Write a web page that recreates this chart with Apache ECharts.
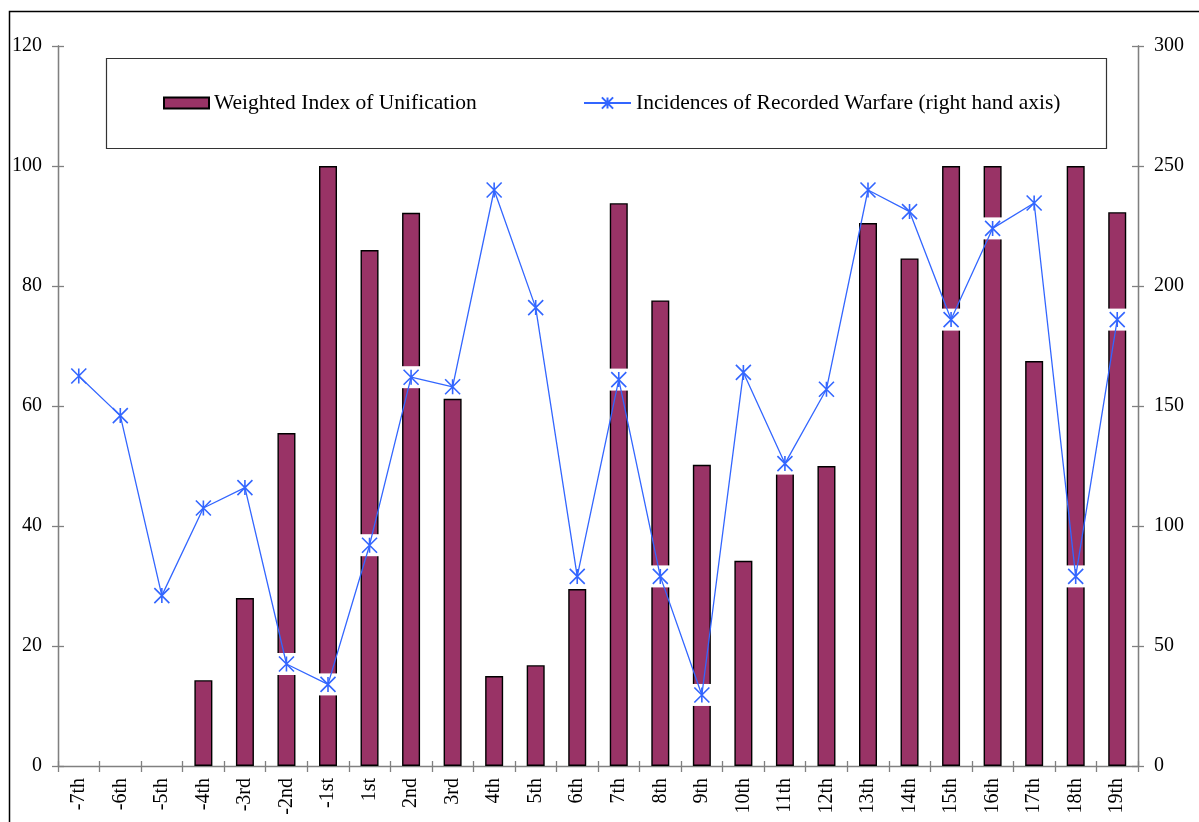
<!DOCTYPE html>
<html><head><meta charset="utf-8">
<script src="https://cdn.jsdelivr.net/npm/echarts@6/dist/echarts.min.js"></script>
<style>html,body{margin:0;padding:0;background:#fff;overflow:hidden}#c{width:1199px;height:822px}</style>
</head><body><div id="c"></div>
<script>
const categories = ['-7th','-6th','-5th','-4th','-3rd','-2nd','-1st','1st','2nd','3rd','4th','5th','6th','7th','8th','9th','10th','11th','12th','13th','14th','15th','16th','17th','18th','19th'];
const unification = [0,0,0,14.3,28,55.5,100,86,92.2,61.2,15,16.8,29.5,93.8,77.6,50.2,34.2,50,50,90.5,84.6,100,100,67.5,100,92.3];
const warfare = [162.5,146,71,107.5,116,42.5,34,92,162,158,240,191,79,161,79,29.6,164,126,157,240,231,186,224,234.6,79,186];
const leftAxis = {min:0,max:120,interval:20};
const rightAxis = {min:0,max:300,interval:50};
const seriesNames = ['Weighted Index of Unification','Incidences of Recorded Warfare (right hand axis)'];

const FONT = 'Liberation Serif';
const AXIS_GREY = '#808080';
const chart = echarts.init(document.getElementById('c'), null, {renderer:'canvas'});
const starPath = 'path://M0,0L10,10M10,0L0,10M5,0L5,10';

function yAx(pos, cfg, inside, show){
  return {type:'value', position:pos, min:cfg.min, max:cfg.max, interval:cfg.interval,
    splitLine:{show:false},
    axisLine:{show:true, lineStyle:{color:AXIS_GREY, width:1.3}},
    axisTick:{show:true, inside:inside, length:6, lineStyle:{color:AXIS_GREY, width:1.3}},
    axisLabel:{show:show, margin:16, color:'#000', fontFamily:FONT, fontSize:20}};
}

chart.setOption({
  animation:false,
  backgroundColor:'#fff',
  grid:{left:58, right:61, top:46, bottom:56, containLabel:false},
  legend:[
    {left:163, top:92, padding:0, itemWidth:45, itemHeight:11, itemGap:0, icon:'rect',
     data:[{name:seriesNames[0], icon:'rect'}],
     textStyle:{fontFamily:FONT, fontSize:21.5, color:'#000'}},
    {left:583, top:92, padding:0, itemWidth:47, itemHeight:14, itemGap:0, data:[seriesNames[1]],
     textStyle:{fontFamily:FONT, fontSize:21.5, color:'#000'}}
  ],
  graphic:[
    {type:'rect', shape:{x:9.5, y:11.5, width:1300, height:900}, style:{fill:'none', stroke:'#000', lineWidth:1.5}, silent:true, z:-10},
    {type:'rect', shape:{x:106.5, y:58.5, width:1000, height:90}, style:{fill:'#fff', stroke:'#333', lineWidth:1.2}, silent:true, z:-5}
  ],
  xAxis:[
    {type:'category', data:categories, position:'bottom', boundaryGap:true,
     axisLine:{show:true, lineStyle:{color:AXIS_GREY, width:1.3}},
     axisTick:{show:true, interval:0, length:6, lineStyle:{color:AXIS_GREY, width:1.3}},
     axisLabel:{interval:0, rotate:90, margin:12, color:'#000', fontFamily:FONT, fontSize:20},
     splitLine:{show:false}},
    {type:'category', data:categories, position:'bottom', boundaryGap:true,
     axisLine:{show:false},
     axisTick:{show:true, inside:true, interval:0, length:5, lineStyle:{color:AXIS_GREY, width:1.3}},
     axisLabel:{show:false}, splitLine:{show:false}}
  ],
  yAxis:[
    yAx('left', leftAxis, false, true),
    yAx('right', rightAxis, false, true),
    yAx('left', leftAxis, true, false),
    yAx('right', rightAxis, true, false)
  ],
  series:[
    {name:seriesNames[0], type:'bar', data:unification.map(v => v === 0 ? '-' : v), xAxisIndex:0, yAxisIndex:0,
     barWidth:18, z:2,
     itemStyle:{color:'#993366', borderColor:'#000', borderWidth:1.4},
     emphasis:{disabled:true}},
    {name:'box', type:'scatter', data:warfare, xAxisIndex:0, yAxisIndex:1,
     symbol:'rect', symbolSize:[20,22], z:3, silent:true,
     itemStyle:{color:'#fff', opacity:1}, emphasis:{disabled:true}},
    {name:seriesNames[1], type:'line', data:warfare, xAxisIndex:0, yAxisIndex:1,
     symbol:starPath, symbolSize:15, showAllSymbol:true, z:4,
     lineStyle:{color:'#3366FF', width:1.3},
     itemStyle:{color:'#3366FF', borderColor:'#3366FF', borderWidth:1.6},
     emphasis:{disabled:true}}
  ]
});
</script></body></html>
